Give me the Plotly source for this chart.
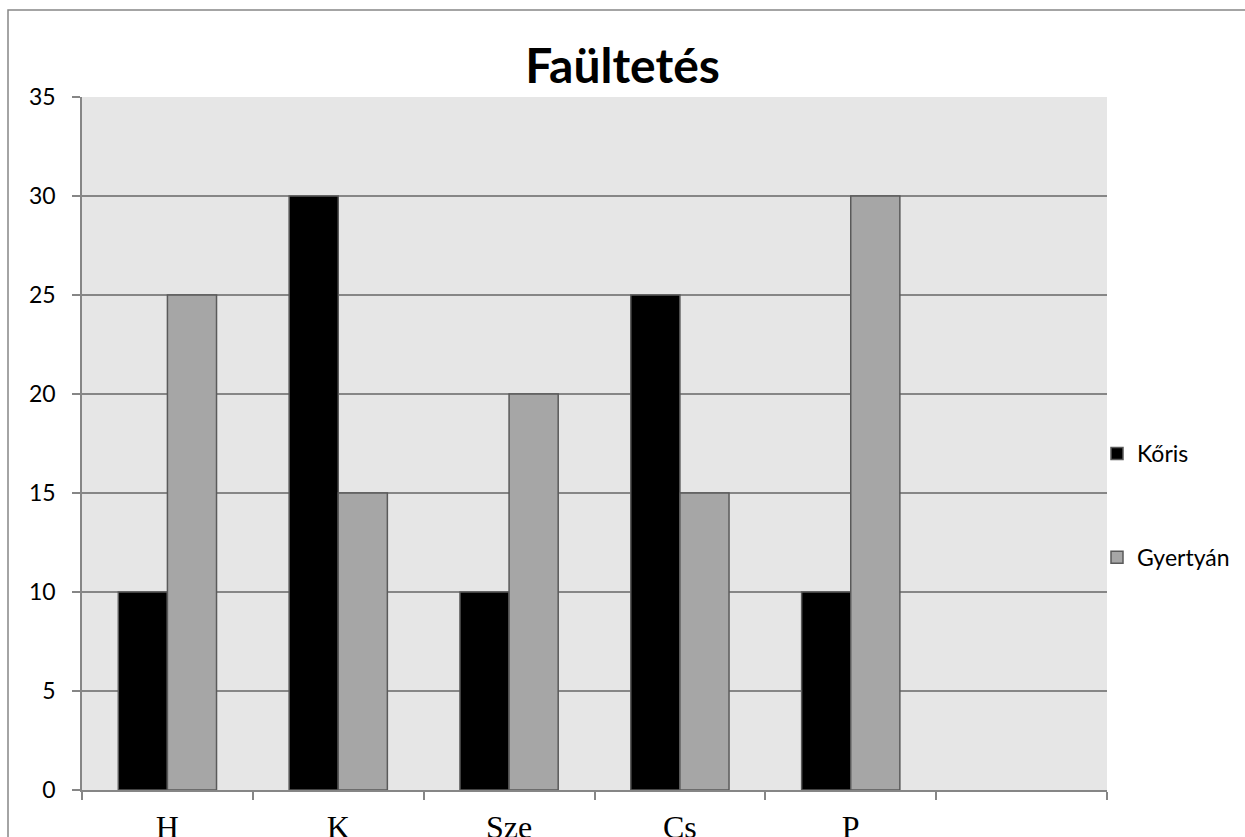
import plotly.graph_objects as go

categories = ["H", "K", "Sze", "Cs", "P"]
koris = [10, 30, 10, 25, 10]
gyertyan = [25, 15, 20, 15, 30]
series_names = ["Kőris", "Gyertyán"]
title_text = "Faültetés"

W, H = 1245, 837
L, R, T, B = 82, 1107, 97, 790
pw, ph = R - L, B - T

fig = go.Figure()
fig.add_trace(go.Bar(x=categories, y=koris, name=series_names[0],
                     marker=dict(color="#000000", line=dict(color="#5a5a5a", width=1.5)),
                     legendgroup="a"))
fig.add_trace(go.Bar(x=categories, y=gyertyan, name=series_names[1],
                     marker=dict(color="#a6a6a6", line=dict(color="#5a5a5a", width=1.5)),
                     legendgroup="b"))

def px_x(x):
    return (x - L) / pw

def px_y(y):
    return (B - y) / ph

fig.update_layout(
    width=W, height=H,
    margin=dict(l=L, r=W - R, t=T, b=H - B, pad=0, autoexpand=False),
    paper_bgcolor="white",
    plot_bgcolor="#e6e6e6",
    barmode="group",
    bargap=0.425,
    bargroupgap=0,
    title=dict(text=f"<b>{title_text}</b>", x=0.5, xanchor="center", xref="container",
               y=1 - 66 / H, yanchor="middle",
               font=dict(family="Lato", size=48, color="black")),
    showlegend=True,
    legend=dict(x=px_x(1097), xanchor="left", y=px_y(432), yanchor="top",
                font=dict(family="Lato", size=23, color="black"),
                tracegroupgap=71, traceorder="grouped", itemwidth=30,
                bgcolor="rgba(0,0,0,0)"),
    xaxis=dict(type="category", categoryorder="array",
               categoryarray=categories + [" "], range=[-0.5, 5.5],
               tickson="boundaries", ticks="outside", ticklen=8, tickcolor="#868686",
               tickwidth=1.5, automargin=False,
               showline=True, linecolor="#868686", linewidth=1.5,
               showgrid=False, zeroline=False,
               tickfont=dict(family="Liberation Serif", size=32, color="black"),
               ticklabelstandoff=8, fixedrange=True),
    yaxis=dict(range=[0, 35], dtick=5, tick0=0, ticks="outside", ticklen=8,
               tickcolor="#868686", tickwidth=1.5, automargin=False,
               showline=True, linecolor="#868686", linewidth=1.5,
               showgrid=True, gridcolor="#868686", gridwidth=1.5, zeroline=False,
               tickfont=dict(family="Lato", size=23, color="black"),
               ticklabelstandoff=12, fixedrange=True),
)

fig.add_shape(type="rect", xref="paper", yref="paper",
              x0=px_x(8), x1=px_x(1300), y0=px_y(900), y1=px_y(10),
              line=dict(color="#878787", width=1.5), fillcolor="rgba(0,0,0,0)",
              layer="below")

fig.write_html("out.html", config={"displayModeBar": False},
               post_script="document.body.style.margin='0';document.body.style.overflow='hidden';")
